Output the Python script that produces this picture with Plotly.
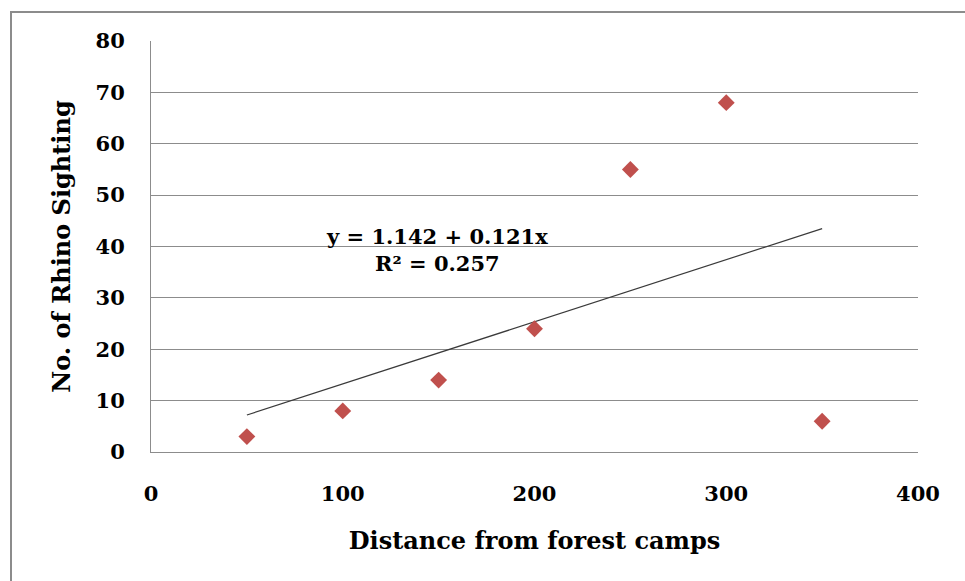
import plotly.graph_objects as go

distance = [50, 100, 150, 200, 250, 300, 350]
sightings = [3, 8, 14, 24, 55, 68, 6]
intercept = 1.142
slope = 0.121
r_squared = 0.257
trend_x = [min(distance), max(distance)]
trend_y = [intercept + slope * v for v in trend_x]

FONT = "DejaVu Serif"

fig = go.Figure()
fig.add_trace(go.Scatter(
    x=trend_x, y=trend_y, mode="lines",
    line=dict(color="#3a3a3a", width=1.2), showlegend=False, hoverinfo="skip"))
fig.add_trace(go.Scatter(
    x=distance, y=sightings, mode="markers",
    marker=dict(symbol="diamond", size=13, color="#C0504D"),
    showlegend=False))

fig.add_annotation(
    x=149, y=39.3, xref="x", yref="y", showarrow=False, align="center",
    text=f"y = {intercept:.3f} + {slope:.3f}x<br>R² = {r_squared:.3f}",
    font=dict(family=FONT, size=21, color="black", weight="bold"))

# outer chart border
fig.add_shape(type="rect", xref="paper", yref="paper",
              x0=(11 - 151) / 767, x1=(975 - 151) / 767,
              y0=-(600 - 452) / 411, y1=1 + (41 - 12) / 411,
              line=dict(color="#8c8c8c", width=2), layer="below")

fig.update_layout(
    width=965, height=581,
    margin=dict(l=151, r=47, t=41, b=129),
    paper_bgcolor="white", plot_bgcolor="white",
    font=dict(family=FONT, color="black"),
    xaxis=dict(
        range=[0, 400], dtick=100, tick0=0,
        showgrid=False, zeroline=False,
        showline=True, linecolor="#8c8c8c", linewidth=1,
        ticks="", ticklabelstandoff=23,
        tickfont=dict(family=FONT, size=21, color="black", weight="bold"),
        title=dict(text="Distance from forest camps", standoff=26,
                   font=dict(family=FONT, size=24, color="black", weight="bold")),
    ),
    yaxis=dict(
        range=[0, 80], dtick=10, tick0=0,
        showgrid=True, gridcolor="#8c8c8c", gridwidth=1,
        zeroline=False,
        showline=True, linecolor="#8c8c8c", linewidth=1,
        ticks="", ticklabelstandoff=21,
        tickfont=dict(family=FONT, size=21, color="black", weight="bold"),
        title=dict(text="No. of Rhino Sighting", standoff=18,
                   font=dict(family=FONT, size=24, color="black", weight="bold")),
    ),
)

fig.write_html("out.html", config={"displayModeBar": False},
               post_script="document.body.style.margin='0';document.body.style.overflow='hidden';")
